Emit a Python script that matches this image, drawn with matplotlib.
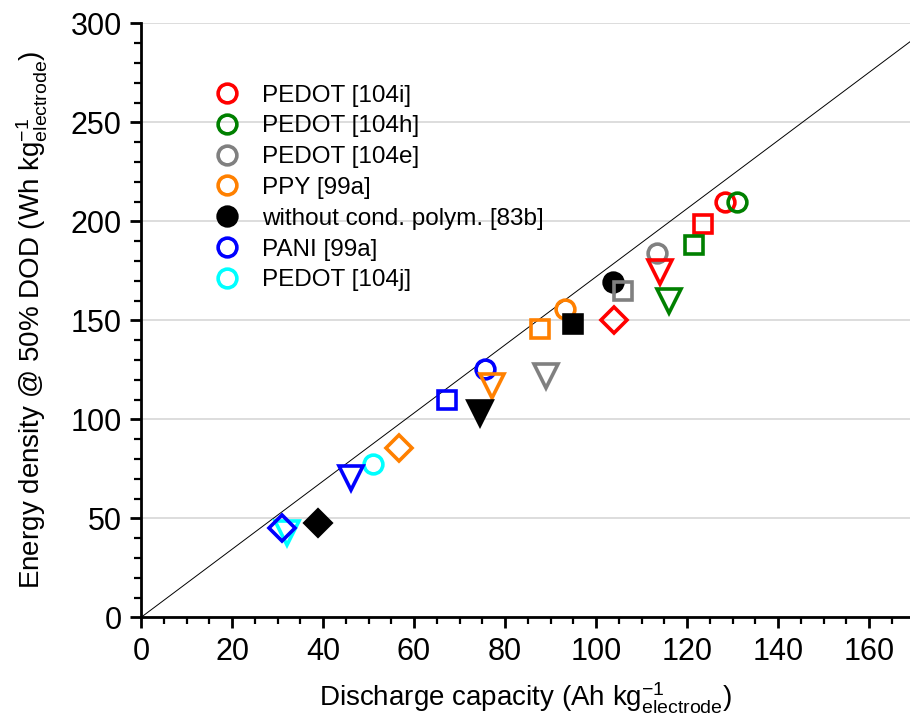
import numpy as np
import matplotlib
matplotlib.use('Agg')
import matplotlib.pyplot as plt
from matplotlib.lines import Line2D

plt.rcParams['font.family'] = ['Liberation Sans', 'DejaVu Sans']
plt.rcParams['mathtext.fontset'] = 'custom'
plt.rcParams['mathtext.rm'] = 'Liberation Sans'
plt.rcParams['mathtext.it'] = 'Liberation Sans:italic'

nan = np.nan

series = ['PEDOT [104i]', 'PEDOT [104h]', 'PEDOT [104e]', 'PPY [99a]',
          'without cond. polym. [83b]', 'PANI [99a]', 'PEDOT [104j]']
colors = ['#ff0000', '#008000', '#808080', '#ff8000', '#000000', '#0000ff', '#00ffff']
filled = [False, False, False, False, True, False, False]

# discharge capacity (x) / energy density (y), one entry per series
circle_x = [128.3, 131.0, 113.3, 93.1, 103.8, 75.7, 51.0]
circle_y = [209.9, 209.9, 184.2, 155.8, 169.4, 125.4, 77.5]
square_x = [123.4, 121.6, 105.9, 87.6, 94.9, 67.2, nan]
square_y = [198.8, 188.1, 164.9, 145.6, 148.1, 109.8, nan]
triangle_x = [114.1, 116.0, 89.0, 77.1, 74.4, 46.2, 32.0]
triangle_y = [174.6, 159.7, 122.0, 117.0, 103.2, 70.2, 42.4]
diamond_x = [104.0, nan, nan, 56.8, 38.8, 30.9, nan]
diamond_y = [150.1, nan, nan, 85.4, 47.6, 45.2, nan]

line_x = [0, 169]
slope = 1.72

fig = plt.figure(figsize=(9.1, 7.28), dpi=100)
ax = fig.add_axes([0.155, 0.152, 0.845, 0.816])

ax.plot(line_x, [v * slope for v in line_x], color='black', lw=0.7, zorder=2)

shapes = [('o', 13.5, circle_x, circle_y),
          ('s', 12.5, square_x, square_y),
          ('v', 17.0, triangle_x, triangle_y),
          ('D', 12.8, diamond_x, diamond_y)]
for mk, ms, xs, ys in shapes:
    for i in range(len(series)):
        if np.isnan(xs[i]):
            continue
        ax.plot(xs[i], ys[i], linestyle='none', marker=mk, markersize=ms,
                markeredgewidth=2.6, markeredgecolor=colors[i],
                markerfacecolor=colors[i] if filled[i] else 'none', zorder=3)

handles = [Line2D([], [], linestyle='none', marker='o', markersize=13.5,
                  markeredgewidth=2.6, markeredgecolor=c,
                  markerfacecolor=c if f else 'none')
           for c, f in zip(colors, filled)]
ax.legend(handles, series, loc='upper left', bbox_to_anchor=(0.083, 0.913),
          frameon=False, fontsize=17.5, handlelength=1.0, handletextpad=0.95,
          labelspacing=0.36, borderaxespad=0)

ax.set_xlim(0, 169)
ax.set_ylim(0, 300)
ax.set_xticks(np.arange(0, 161, 20))
ax.set_xticks(np.arange(0, 169, 5), minor=True)
ax.set_yticks(np.arange(0, 301, 50))
ax.set_yticks(np.arange(0, 301, 10), minor=True)
ax.yaxis.grid(True, color='#d3d3d3', lw=1.1, zorder=0)
ax.set_axisbelow(True)

for s in ['top', 'right']:
    ax.spines[s].set_visible(False)
for s in ['left', 'bottom']:
    ax.spines[s].set_linewidth(2.0)
ax.tick_params(which='major', direction='out', length=8, width=2.0,
               labelsize=22, pad=6)
ax.tick_params(which='minor', direction='out', length=4.8, width=1.6)

ax.set_xlabel(r'Discharge capacity (Ah kg$^{-1}_{\mathrm{electrode}}$)',
              fontsize=20, labelpad=10)
ax.set_ylabel(r'Energy density @ 50% DOD (Wh kg$^{-1}_{\mathrm{electrode}}$)',
              fontsize=20, labelpad=15)

fig.savefig('out.png', dpi=100)
